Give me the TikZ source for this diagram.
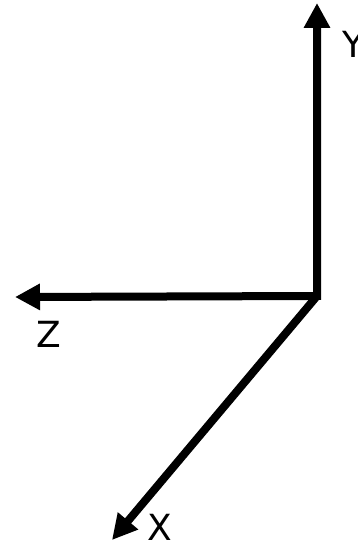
\documentclass[tikz,border=0pt]{standalone}
\usepackage{fontspec}
\setmainfont{DejaVu Sans}
\usetikzlibrary{arrows.meta}
\begin{document}
\begin{tikzpicture}[x=1pt,y=-1pt,
  tip/.style={Triangle[length=25pt,width=25pt]},
  axis/.style={line width=8pt,line join=miter},
  lbl/.style={font=\fontsize{36}{40}\selectfont,inner sep=0pt}]
\useasboundingbox (0,0) rectangle (357,548);
\coordinate (O) at (317,296);
\coordinate (ytip) at (317,3);
\coordinate (ztip) at (15,297);
\coordinate (xtip) at (112,540);
\draw[axis,{Triangle[length=25pt,width=25pt]}-{Triangle[length=25pt,width=25pt]}] (ztip) -- (O) -- (ytip);
\draw[axis,-{Triangle[length=25pt,width=25pt]}] (O) -- (xtip);
\node[lbl] (ylab) at (353,44) {Y};
\node[lbl] (zlab) at (49,334) {Z};
\node[lbl] (xlab) at (160,527) {X};
\end{tikzpicture}
\end{document}
